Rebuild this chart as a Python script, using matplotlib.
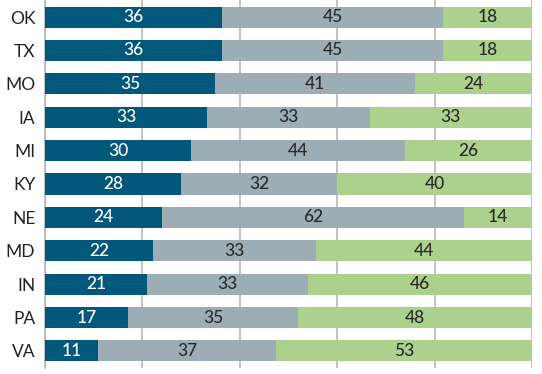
import numpy as np
import matplotlib.pyplot as plt

# Daten
states = ['OK', 'TX', 'MO', 'IA', 'MI', 'KY', 'NE', 'MD', 'IN', 'PA', 'VA']
dark = [36, 36, 35, 33, 30, 28, 24, 22, 21, 17, 11]
mid = [45, 45, 41, 33, 44, 32, 62, 33, 33, 35, 37]
light = [18, 18, 24, 33, 26, 40, 14, 44, 46, 48, 53]

colors = ['#02587a', '#9dadb6', '#acd18d']
text_colors = ['white', '#2a2a2a', '#2a2a2a']

plt.rcParams['font.family'] = ['Lato', 'DejaVu Sans']

fig = plt.figure(figsize=(5.42, 3.74), dpi=100)
ax = fig.add_axes([45 / 542, 6 / 374, 487 / 542, 368 / 374])

# gerundete Werte -> jede Zeile auf 100 % skalieren
totals = np.array(dark) + np.array(mid) + np.array(light)

y = np.arange(len(states))
left = np.zeros(len(states))
for vals, c, tc in zip([dark, mid, light], colors, text_colors):
    vals = np.array(vals)
    widths = vals / totals * 100
    bars = ax.barh(y, widths, left=left, height=0.63, color=c, zorder=3)
    ax.bar_label(bars, labels=[str(v) for v in vals], label_type='center',
                 color=tc, fontsize=12.5, fontweight='medium')
    left = left + widths

ax.set_xlim(0, 100)
ax.set_ylim(10.51, -0.51)
ax.set_yticks(y)
ax.set_yticklabels(states, fontsize=12.5, color='#222222')
ax.set_xticks([0, 20, 40, 60, 80, 100])
ax.set_xticklabels([])
ax.tick_params(axis='y', length=0, pad=7)
ax.tick_params(axis='x', length=0)
ax.grid(axis='x', color='#b8b8b8', linewidth=1.2, zorder=0)
for s in ['top', 'right', 'bottom']:
    ax.spines[s].set_visible(False)
ax.spines['left'].set_color('#b8b8b8')
ax.spines['left'].set_linewidth(1.2)

fig.savefig('out.png', dpi=100)
